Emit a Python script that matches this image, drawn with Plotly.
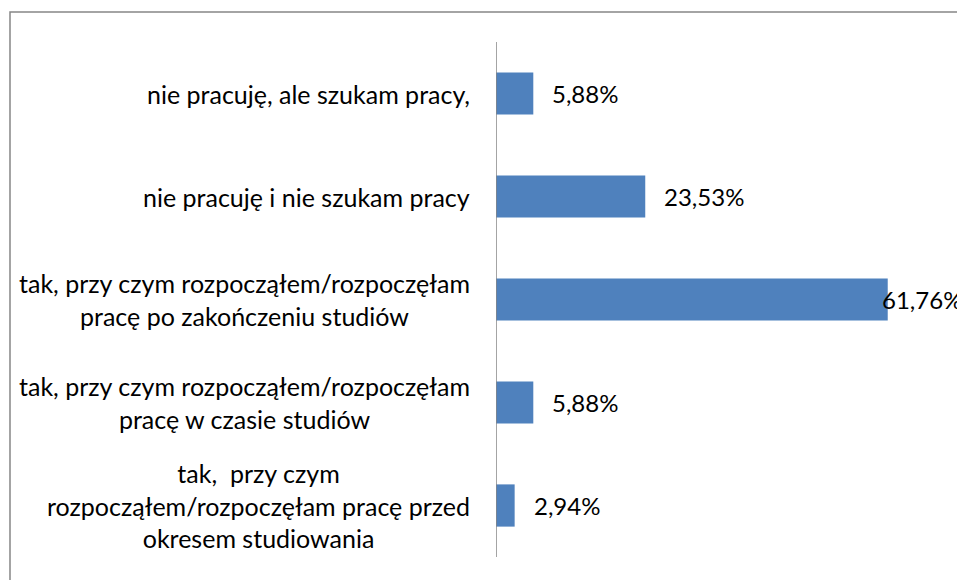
import plotly.graph_objects as go

categories = [
    "tak,  przy czym<br>rozpocząłem/rozpoczęłam pracę przed<br>okresem studiowania",
    "tak, przy czym rozpocząłem/rozpoczęłam<br>pracę w czasie studiów",
    "tak, przy czym rozpocząłem/rozpoczęłam<br>pracę po zakończeniu studiów",
    "nie pracuję i nie szukam pracy",
    "nie pracuję, ale szukam pracy,",
]
values = [2.94, 5.88, 61.76, 23.53, 5.88]
value_labels = ["2,94%", "5,88%", "61,76%", "23,53%", "5,88%"]

FONT = "Lato, Carlito, Calibri, sans-serif"
W, H = 957, 572
ML, MR, MT, MB = 488, 25, 34, 23
XMAX = 70
LABEL_FS = 25
VALUE_FS = 24

fig = go.Figure(go.Bar(
    y=list(range(len(categories))),
    x=values,
    orientation="h",
    marker=dict(color="#4F81BD", line=dict(width=0)),
    width=0.41,
    hoverinfo="x",
))

annotations = []
for i, c in enumerate(categories):
    annotations.append(dict(
        xref="paper", yref="y", x=0, y=i, text=c,
        xanchor="right", yanchor="middle", align="center",
        xshift=-24, showarrow=False,
        font=dict(family=FONT, size=LABEL_FS, color="#000000"),
    ))

# value labels placed just beyond the bar end, kept inside the chart (like Excel)
plot_w = W - ML - MR
for i, (v, t) in enumerate(zip(values, value_labels)):
    end_px = ML + v / XMAX * plot_w
    est_w = len(t) * VALUE_FS * 0.55
    shift = min(17, (W - 6) - end_px - est_w)
    annotations.append(dict(
        xref="x", yref="y", x=v, y=i, text=t,
        xanchor="left", yanchor="middle", xshift=shift, showarrow=False,
        font=dict(family=FONT, size=VALUE_FS, color="#000000"),
    ))

fig.update_layout(
    width=W, height=H,
    margin=dict(l=ML, r=MR, t=MT, b=MB),
    paper_bgcolor="white", plot_bgcolor="white",
    showlegend=False,
    annotations=annotations,
    shapes=[dict(type="rect", xref="paper", yref="paper",
                 x0=-1.0946, x1=1.3, y0=-0.3, y1=1.0583,
                 line=dict(color="#868686", width=1.5), layer="below")],
    xaxis=dict(range=[0, XMAX], showgrid=False, zeroline=False,
               showticklabels=False, showline=False, fixedrange=True),
    yaxis=dict(range=[-0.5, 4.5], showgrid=False, zeroline=False,
               showticklabels=False, showline=False, ticks=""),
)
fig.add_shape(type="line", xref="x", yref="paper", x0=0, x1=0, y0=0, y1=1,
              line=dict(color="#868686", width=1.5))

fig.write_html("out.html")
